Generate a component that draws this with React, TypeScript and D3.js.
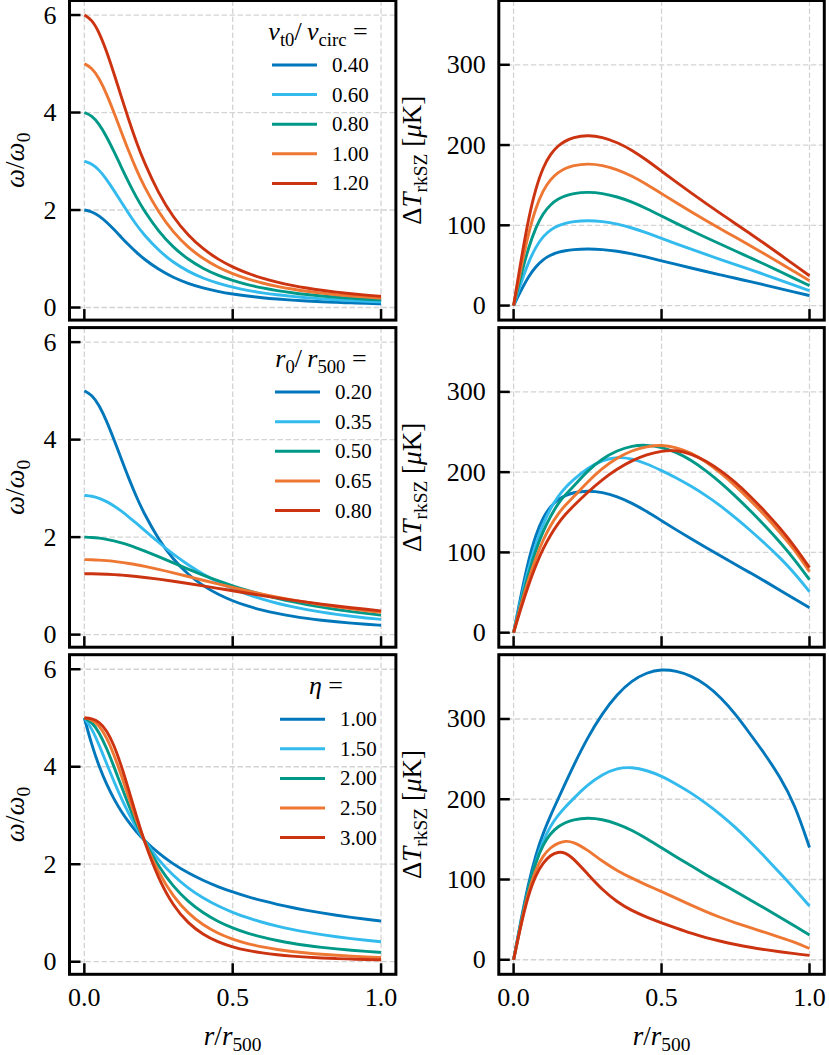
import React from 'react';
import * as d3 from 'd3';

// radius grid r / r500 shared by every curve
const radius = [0, 0.025, 0.05, 0.075, 0.1, 0.125, 0.15, 0.175, 0.2, 0.25, 0.3, 0.35, 0.4, 0.45, 0.5, 0.55, 0.6, 0.65, 0.7, 0.75, 0.8, 0.85, 0.9, 0.95, 1.0];

const palette = ['#0077BB', '#33BBEE', '#009988', '#EE7733', '#CC3311'];

// row 1: v_t0 / v_circ
const velocityLabels = ['0.40', '0.60', '0.80', '1.00', '1.20'];
const omegaV040 = [2, 1.969, 1.882, 1.753, 1.6, 1.438, 1.28, 1.133, 1.0, 0.78, 0.615, 0.492, 0.4, 0.33, 0.276, 0.234, 0.2, 0.173, 0.151, 0.133, 0.118, 0.105, 0.094, 0.085, 0.077];
const omegaV060 = [3, 2.954, 2.824, 2.63, 2.4, 2.157, 1.92, 1.699, 1.5, 1.171, 0.923, 0.739, 0.6, 0.495, 0.414, 0.35, 0.3, 0.26, 0.227, 0.199, 0.176, 0.158, 0.141, 0.127, 0.115];
const omegaV080 = [4, 3.938, 3.765, 3.507, 3.2, 2.876, 2.56, 2.265, 2.0, 1.561, 1.231, 0.985, 0.8, 0.66, 0.552, 0.467, 0.4, 0.346, 0.302, 0.266, 0.235, 0.21, 0.188, 0.169, 0.154];
const omegaV100 = [5, 4.923, 4.706, 4.384, 4.0, 3.596, 3.2, 2.832, 2.5, 1.951, 1.538, 1.231, 1.0, 0.825, 0.69, 0.584, 0.5, 0.433, 0.377, 0.332, 0.294, 0.262, 0.235, 0.212, 0.192];
const omegaV120 = [6, 5.908, 5.647, 5.26, 4.8, 4.315, 3.84, 3.398, 3.0, 2.341, 1.846, 1.477, 1.2, 0.99, 0.828, 0.701, 0.6, 0.519, 0.453, 0.398, 0.353, 0.315, 0.283, 0.254, 0.231];
const dTV040 = [0, 18.8, 36, 48.8, 57.6, 63, 66.4, 68.4, 69.8, 70.8, 70, 67.8, 64.6, 60.4, 55.8, 51.2, 46.8, 42.4, 38.2, 34, 29.8, 25.6, 21.2, 16.8, 12.4];
const dTV060 = [0, 28.2, 54, 73.2, 86.4, 94.5, 99.6, 102.6, 104.7, 106.2, 105, 101.7, 96.9, 90.6, 83.7, 76.8, 70.2, 63.6, 57.3, 51, 44.7, 38.4, 31.8, 25.2, 18.6];
const dTV080 = [0, 37.6, 72, 97.6, 115.2, 126, 132.8, 136.8, 139.6, 141.6, 140, 135.6, 129.2, 120.8, 111.6, 102.4, 93.6, 84.8, 76.4, 68, 59.6, 51.2, 42.4, 33.6, 24.8];
const dTV100 = [0, 47, 90, 122, 144, 157.5, 166, 171, 174.5, 177, 175, 169.5, 161.5, 151, 139.5, 128, 117, 106, 95.5, 85, 74.5, 64, 53, 42, 31];
const dTV120 = [0, 56.4, 108, 146.4, 172.8, 189, 199.2, 205.2, 209.4, 212.4, 210, 203.4, 193.8, 181.2, 167.4, 153.6, 140.4, 127.2, 114.6, 102, 89.4, 76.8, 63.6, 50.4, 37.2];

// row 2: r0 / r500
const coreLabels = ['0.20', '0.35', '0.50', '0.65', '0.80'];
const omegaR020 = [5, 4.923, 4.706, 4.384, 4.0, 3.596, 3.2, 2.832, 2.5, 1.951, 1.538, 1.231, 1.0, 0.825, 0.69, 0.584, 0.5, 0.433, 0.377, 0.332, 0.294, 0.262, 0.235, 0.212, 0.192];
const omegaR035 = [2.857, 2.843, 2.8, 2.731, 2.641, 2.534, 2.414, 2.286, 2.154, 1.892, 1.647, 1.429, 1.239, 1.077, 0.94, 0.824, 0.725, 0.642, 0.571, 0.511, 0.459, 0.414, 0.375, 0.341, 0.312];
const omegaR050 = [2, 1.995, 1.98, 1.956, 1.923, 1.882, 1.835, 1.782, 1.724, 1.6, 1.471, 1.342, 1.22, 1.105, 1.0, 0.905, 0.82, 0.743, 0.676, 0.615, 0.562, 0.514, 0.472, 0.434, 0.4];
const omegaR065 = [1.538, 1.536, 1.529, 1.518, 1.503, 1.483, 1.46, 1.434, 1.405, 1.34, 1.268, 1.192, 1.115, 1.04, 0.966, 0.896, 0.83, 0.769, 0.712, 0.66, 0.612, 0.568, 0.527, 0.49, 0.457];
const omegaR080 = [1.25, 1.249, 1.245, 1.239, 1.231, 1.22, 1.208, 1.193, 1.176, 1.139, 1.096, 1.049, 1.0, 0.95, 0.899, 0.849, 0.8, 0.753, 0.708, 0.665, 0.625, 0.587, 0.552, 0.519, 0.488];
const dTR020 = [0, 47, 90, 122, 144, 157.5, 166, 171, 174.5, 177, 175, 169.5, 161.5, 151, 139.5, 128, 117, 106, 95.5, 85, 74.5, 64, 53, 42, 31];
const dTR035 = [0, 42, 80, 111, 136, 155, 170, 181, 190, 205, 215, 219, 217, 210.5, 202, 193, 182.5, 171, 158, 143, 127.5, 111, 93.5, 74, 51];
const dTR050 = [0, 38, 73, 103, 127, 145, 161, 172, 181, 202, 217, 227, 233, 234, 231, 225, 215, 202, 187, 170, 152, 133, 113, 91, 66];
const dTR065 = [0, 35, 66, 93, 116, 134, 148, 159, 168, 188, 205, 218, 227, 232, 234, 231, 224, 213, 199, 183, 165, 146, 125, 103, 76];
const dTR080 = [0, 31, 59, 84, 105, 122, 136, 147.5, 157, 175, 191, 204, 214.5, 222, 226.5, 227.5, 223, 214, 202, 187.5, 170, 151, 130.5, 107.5, 81];

// row 3: eta
const etaLabels = ['1.00', '1.50', '2.00', '2.50', '3.00'];
const omegaEta100 = [5, 4.444, 4.0, 3.636, 3.333, 3.077, 2.857, 2.667, 2.5, 2.222, 2.0, 1.818, 1.667, 1.538, 1.429, 1.333, 1.25, 1.176, 1.111, 1.053, 1.0, 0.952, 0.909, 0.87, 0.833];
const omegaEta150 = [5, 4.788, 4.444, 4.066, 3.694, 3.346, 3.031, 2.75, 2.5, 2.086, 1.762, 1.508, 1.306, 1.143, 1.01, 0.899, 0.807, 0.729, 0.662, 0.605, 0.556, 0.512, 0.474, 0.44, 0.41];
const omegaEta200 = [5, 4.923, 4.706, 4.384, 4.0, 3.596, 3.2, 2.832, 2.5, 1.951, 1.538, 1.231, 1.0, 0.825, 0.69, 0.584, 0.5, 0.433, 0.377, 0.332, 0.294, 0.262, 0.235, 0.212, 0.192];
const omegaEta250 = [5, 4.973, 4.848, 4.604, 4.249, 3.82, 3.362, 2.913, 2.5, 1.82, 1.331, 0.99, 0.751, 0.582, 0.459, 0.369, 0.301, 0.249, 0.209, 0.177, 0.152, 0.131, 0.114, 0.1, 0.088];
const omegaEta300 = [5, 4.99, 4.923, 4.75, 4.444, 4.019, 3.517, 2.994, 2.5, 1.693, 1.143, 0.786, 0.556, 0.404, 0.301, 0.229, 0.179, 0.142, 0.114, 0.093, 0.077, 0.064, 0.054, 0.046, 0.04];
const dTEta100 = [0, 50, 95, 131, 158, 180, 200, 220, 240, 277, 307, 331, 348, 358, 362, 360, 354, 343, 327, 306, 281, 256, 228, 194, 140];
const dTEta150 = [0, 47, 89, 123, 149, 167, 180, 190.5, 200, 218, 231, 239, 240, 236, 229, 219, 208, 195, 181, 165, 147, 128, 108, 88, 67];
const dTEta200 = [0, 47, 90, 122, 144, 157.5, 166, 171, 174.5, 177, 175, 169.5, 161.5, 151, 139.5, 128, 117, 106, 95.5, 85, 74.5, 64, 53, 42, 31];
const dTEta250 = [0, 45, 85, 113, 130, 140, 145.5, 148, 147.3, 137, 122.5, 111, 101.5, 93, 85, 76.5, 68, 60, 52.5, 46, 40, 34, 28, 22, 14];
const dTEta300 = [0, 44, 81, 106, 121, 130.5, 134.5, 133.5, 127, 107, 87, 72, 61, 53, 46, 39.5, 33, 27.5, 23, 19, 15.5, 12.5, 10, 7.5, 5.5];

const xTicks = [0, 0.5, 1.0];
const omegaTicks = [0, 2, 4, 6];
const dTTicks = [0, 100, 200, 300];

type Part = { t: string; it?: boolean; sub?: boolean };

const omegaTitle: Part[] = [{ t: 'ω', it: true }, { t: '/' }, { t: 'ω', it: true }, { t: '0', sub: true }];
const dTTitle: Part[] = [{ t: 'Δ' }, { t: 'T', it: true }, { t: 'rkSZ', sub: true }, { t: '\u00a0[' }, { t: 'μ', it: true }, { t: 'K]' }];
const radiusTitle: Part[] = [{ t: 'r', it: true }, { t: '/' }, { t: 'r', it: true }, { t: '500', sub: true }];

const rows = [
  {
    legendTitle: [{ t: 'v', it: true }, { t: 't0', sub: true }, { t: '/\u2009' }, { t: 'v', it: true }, { t: 'circ', sub: true }, { t: '\u00a0=' }] as Part[],
    labels: velocityLabels,
    omega: [omegaV040, omegaV060, omegaV080, omegaV100, omegaV120],
    dT: [dTV040, dTV060, dTV080, dTV100, dTV120],
    legendX: 272, titleX: 318,
  },
  {
    legendTitle: [{ t: 'r', it: true }, { t: '0', sub: true }, { t: '/\u2009' }, { t: 'r', it: true }, { t: '500', sub: true }, { t: '\u00a0=' }] as Part[],
    labels: coreLabels,
    omega: [omegaR020, omegaR035, omegaR050, omegaR065, omegaR080],
    dT: [dTR020, dTR035, dTR050, dTR065, dTR080],
    legendX: 275, titleX: 321,
  },
  {
    legendTitle: [{ t: 'η', it: true }, { t: '\u00a0=' }] as Part[],
    labels: etaLabels,
    omega: [omegaEta100, omegaEta150, omegaEta200, omegaEta250, omegaEta300],
    dT: [dTEta100, dTEta150, dTEta200, dTEta250, dTEta300],
    legendX: 280, titleX: 326,
  },
];

const W = 829;
const H = 1055;
const textStyle = { fontFamily: '"Liberation Serif"' };
const rowTop = [0.5, 327.6, 654.7];
const rowH = 319.6;
const colX: [number, number][] = [[69.5, 395.9], [498.8, 824.3]];

const renderMath = (parts: Part[], fs: number) => {
  let shifted = false;
  const shift = fs * 0.22;
  return parts.map((p, i) => {
    let dy: number | undefined;
    if (p.sub && !shifted) { dy = shift; shifted = true; }
    else if (!p.sub && shifted) { dy = -shift; shifted = false; }
    return (
      <tspan key={i} dy={dy} fontStyle={p.it ? 'italic' : undefined} fontSize={p.sub ? fs * 0.72 : undefined}>
        {p.t}
      </tspan>
    );
  });
};

const padded = (values: number[]): [number, number] => {
  const [lo, hi] = d3.extent(values) as [number, number];
  const m = (hi - lo) * 0.05;
  return [lo - m, hi + m];
};

const App: React.FC = () => {
  const omegaDomain = padded(rows.flatMap(r => r.omega.flat()));
  const dTDomain = padded(rows.flatMap(r => r.dT.flat()));

  return (
    <svg width={W} height={H} style={{ position: 'absolute', left: 0, top: 0, background: '#fff' }}>
      <rect width={W} height={H} fill="#fff" />
      {rows.map((row, ri) => {
        const top = rowTop[ri];
        const bottom = top + rowH;
        return [0, 1].map(ci => {
          const [x0, x1] = colX[ci];
          const x = d3.scaleLinear().domain([-0.05, 1.05]).range([x0, x1]);
          const y = d3.scaleLinear().domain(ci === 0 ? omegaDomain : dTDomain).range([bottom, top]);
          const ticks = ci === 0 ? omegaTicks : dTTicks;
          const series = ci === 0 ? row.omega : row.dT;
          const line = d3.line<number>()
            .x((_, i) => x(radius[i]))
            .y(d => y(d))
            .curve(d3.curveBasis);
          return (
            <g key={`${ri}-${ci}`}>
              {/* grid */}
              {xTicks.map(t => (
                <line key={`gx${t}`} x1={x(t)} x2={x(t)} y1={top} y2={bottom} stroke="#d4d4d4" strokeWidth={1.3} strokeDasharray="5.5,2.5" />
              ))}
              {ticks.map(t => (
                <line key={`gy${t}`} x1={x0} x2={x1} y1={y(t)} y2={y(t)} stroke="#d4d4d4" strokeWidth={1.3} strokeDasharray="5.5,2.5" />
              ))}
              {/* curves */}
              {series.map((s, si) => (
                <path key={si} d={line(s) ?? ''} fill="none" stroke={palette[si]} strokeWidth={2.9} strokeLinejoin="round" />
              ))}
              {/* ticks */}
              {ticks.map(t => (
                <g key={`ty${t}`}>
                  <line x1={x0} x2={x0 + 11} y1={y(t)} y2={y(t)} stroke="#000" strokeWidth={2.5} />
                  <text x={x0 - 13} y={y(t)} textAnchor="end" dominantBaseline="central" fontSize={26} style={textStyle}>{t}</text>
                </g>
              ))}
              {xTicks.map(t => (
                <g key={`tx${t}`}>
                  <line x1={x(t)} x2={x(t)} y1={bottom} y2={bottom - 11} stroke="#000" strokeWidth={2.5} />
                  {ri === 2 && (
                    <text x={x(t)} y={bottom + 31.5} textAnchor="middle" fontSize={26} style={textStyle}>{d3.format('.1f')(t)}</text>
                  )}
                </g>
              ))}
              <rect x={x0} y={top} width={x1 - x0} height={rowH} fill="none" stroke="#000" strokeWidth={3} />
              {/* y label */}
              <text
                transform={`translate(${ci === 0 ? 24 : 421}, ${(top + bottom) / 2}) rotate(-90)`}
                textAnchor="middle"
                fontSize={27}
                style={textStyle}
              >
                {renderMath(ci === 0 ? omegaTitle : dTTitle, 27)}
              </text>
              {ri === 2 && (
                <text x={(x0 + x1) / 2} y={1045} textAnchor="middle" fontSize={27} style={textStyle}>
                  {renderMath(radiusTitle, 27)}
                </text>
              )}
              {/* legend */}
              {ci === 0 && (
                <g>
                  <text x={row.titleX} y={top + 39.5} textAnchor="middle" fontSize={26} style={textStyle}>
                    {renderMath(row.legendTitle, 26)}
                  </text>
                  {row.labels.map((lab, li) => {
                    const ly = top + 64.5 + li * 29.6;
                    return (
                      <g key={lab}>
                        <line x1={row.legendX} x2={row.legendX + 45} y1={ly} y2={ly} stroke={palette[li]} strokeWidth={3} />
                        <text x={row.legendX + 60} y={ly} dominantBaseline="central" fontSize={21} style={textStyle}>{lab}</text>
                      </g>
                    );
                  })}
                </g>
              )}
            </g>
          );
        });
      })}
    </svg>
  );
};

export default App;
